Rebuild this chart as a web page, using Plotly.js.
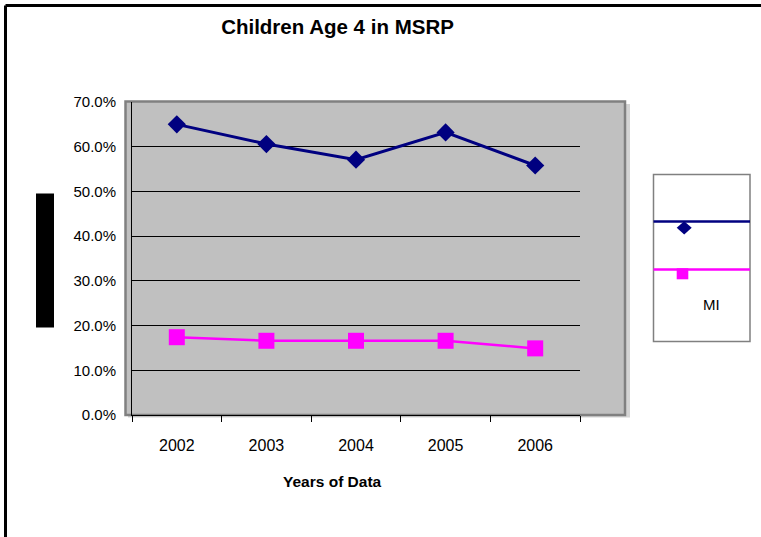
<!DOCTYPE html>
<html>
<head>
<meta charset="utf-8">
<script src="https://cdn.plot.ly/plotly-3.0.1.min.js"></script>
<style>
  html, body { margin: 0; padding: 0; background: #ffffff; }
  #chart { width: 761px; height: 537px; }
</style>
</head>
<body>
<div id="chart"></div>
<script>
// ---- data ----
const years = ['2002', '2003', '2004', '2005', '2006'];
const seriesMSRP = [0.650, 0.606, 0.571, 0.632, 0.558];
const seriesMI = [0.174, 0.166, 0.166, 0.166, 0.149];
const legendLabel = 'MI';
const chartTitle = 'Children Age 4 in MSRP';
const xTitle = 'Years of Data';

// ---- layout geometry (pixels) ----
const W = 761, H = 537;
const M = { l: 132, r: 181, t: 102, b: 122 };
const PW = W - M.l - M.r, PH = H - M.t - M.b;
const px = x => (x - M.l) / PW;          // pixel -> paper x
const py = y => (H - M.b - y) / PH;      // pixel -> paper y

const FONT = 'Liberation Sans, Arial, sans-serif';
const NAVY = '#000080', MAGENTA = '#FF00FF';

const traces = [
  {
    x: years, y: seriesMSRP, name: 'MSRP', type: 'scatter', mode: 'lines+markers',
    line: { color: NAVY, width: 3 },
    marker: { symbol: 'diamond', size: 14, color: NAVY },
    showlegend: false, cliponaxis: false
  },
  {
    x: years, y: seriesMI, name: legendLabel, type: 'scatter', mode: 'lines+markers',
    line: { color: MAGENTA, width: 2.5 },
    marker: { symbol: 'square', size: 16, color: MAGENTA },
    showlegend: false, cliponaxis: false
  }
];

function rect(x0, y0, x1, y1, opts) {
  return Object.assign({ type: 'rect', xref: 'paper', yref: 'paper',
    x0: px(x0), x1: px(x1), y0: py(y0), y1: py(y1), layer: 'below' }, opts);
}
function line(x0, y0, x1, y1, color, width, layer) {
  return { type: 'line', xref: 'paper', yref: 'paper',
    x0: px(x0), x1: px(x1), y0: py(y0), y1: py(y1), layer: layer || 'below',
    line: { color: color, width: width } };
}
function pathShape(pts, color) {
  const d = 'M' + pts.map(p => px(p[0]) + ',' + py(p[1])).join('L') + 'Z';
  return { type: 'path', xref: 'paper', yref: 'paper', path: d, layer: 'above',
    fillcolor: color, line: { width: 0 } };
}

const shapes = [
  // outer chart frame (left and top visible)
  line(5.5, 5.5, 5.5, 560, '#000000', 3, 'above'),
  line(5.5, 5.5, 800, 5.5, '#000000', 3, 'above'),
  // plot-area shadow and gray fill
  rect(128, 104, 630, 417.5, { fillcolor: '#d4d4d4', line: { width: 0 } }),
  rect(125.5, 101.5, 625, 415, { fillcolor: '#c0c0c0', line: { color: '#808080', width: 2.5 } }),
  // black block where the y-axis title sits
  rect(36, 193.5, 54, 327.5, { fillcolor: '#000000', line: { width: 0 }, layer: 'above' }),
  // legend box
  rect(653.5, 174.5, 750, 341.5, { fillcolor: '#ffffff', line: { color: '#808080', width: 1.5 }, layer: 'above' }),
  line(653.5, 221.5, 750, 221.5, NAVY, 2.5, 'above'),
  line(653.5, 269.5, 750, 269.5, MAGENTA, 2.5, 'above'),
  pathShape([[684.2, 221.2], [691.7, 227.8], [684.2, 234.4], [676.7, 227.8]], NAVY),
  pathShape([[676.7, 268.3], [688.3, 268.3], [688.3, 279.3], [676.7, 279.3]], MAGENTA)
];

const layout = {
  width: W, height: H,
  margin: M,
  paper_bgcolor: '#ffffff',
  plot_bgcolor: 'rgba(0,0,0,0)',
  showlegend: false,
  title: {
    text: chartTitle,
    font: { family: FONT, size: 20.5, color: '#000000', weight: 'bold' },
    xref: 'container', yref: 'container',
    x: 337.5 / W, xanchor: 'center',
    y: 1 - 27 / H, yanchor: 'middle'
  },
  xaxis: {
    type: 'category', range: [-0.5, 4.5],
    tickson: 'boundaries', ticks: 'outside', ticklen: 6, tickcolor: '#000000', tickwidth: 1,
    showline: true, linecolor: '#000000', linewidth: 1,
    showgrid: false, zeroline: false,
    tickfont: { family: FONT, size: 16, color: '#000000' },
    ticklabelstandoff: 16,
    fixedrange: true
  },
  yaxis: {
    range: [0, 0.7], dtick: 0.1, tick0: 0, tickformat: '.1%',
    ticks: '', showline: true, linecolor: '#000000', linewidth: 1,
    showgrid: true, gridcolor: '#000000', gridwidth: 1, zeroline: false,
    tickfont: { family: FONT, size: 15, color: '#000000' },
    ticklabelstandoff: 12,
    fixedrange: true
  },
  shapes: shapes,
  annotations: [
    {
      text: xTitle, xref: 'paper', yref: 'paper', x: px(332), y: py(481),
      xanchor: 'center', yanchor: 'middle', showarrow: false,
      font: { family: FONT, size: 15.5, color: '#000000', weight: 'bold' }
    },
    {
      text: legendLabel, xref: 'paper', yref: 'paper', x: px(711.5), y: py(304),
      xanchor: 'center', yanchor: 'middle', showarrow: false,
      font: { family: FONT, size: 15, color: '#000000' }
    }
  ]
};

Plotly.newPlot('chart', traces, layout, { displayModeBar: false, staticPlot: true });
</script>
</body>
</html>
